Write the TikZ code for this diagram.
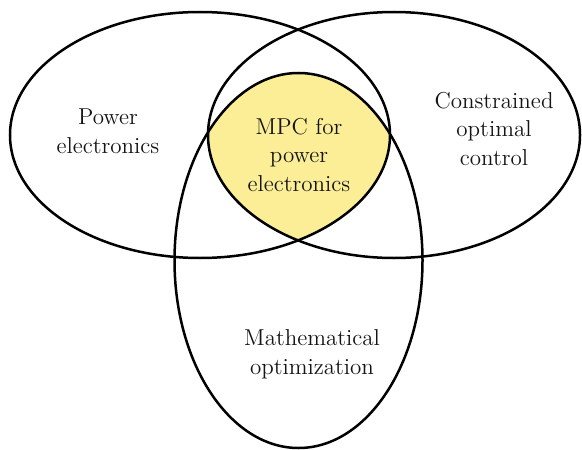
\documentclass[tikz,border=0pt]{standalone}
\usetikzlibrary{positioning}
\definecolor{overlap}{RGB}{252, 238, 150}
\definecolor{ink}{RGB}{20, 20, 20}
\tikzset{
    setline/.style={draw=black, line width=1.25pt},
    settext/.style={align=center, text=ink, font=\fontsize{11.5}{14.3}\selectfont, inner sep=0pt}
}
\newcommand{\peset}{(200,135) ellipse [x radius=190, y radius=123]}
\newcommand{\ocset}{(394,135) ellipse [x radius=186, y radius=123]}
\newcommand{\moset}{(298.5,260.5) ellipse [x radius=124, y radius=187.5]}

\begin{document}
\begin{tikzpicture}[x=0.5pt, y=-0.5pt]
    \useasboundingbox (0,0) rectangle (582,449);
    % common part of all three sets
    \begin{scope}
        \clip \peset;
        \clip \ocset;
        \fill[overlap] \moset;
    \end{scope}
    \draw[setline] \peset;
    \draw[setline] \ocset;
    \draw[setline] \moset;
    \node[settext] (pe) at (108,131) {Power\\electronics};
    \node[settext] (oc) at (494,129) {Constrained\\optimal\\control};
    \node[settext] (mo) at (312,354) {Mathematical\\optimization};
    \node[settext] (mpc) at (299,155) {MPC for\\power\\electronics};
\end{tikzpicture}
\end{document}
